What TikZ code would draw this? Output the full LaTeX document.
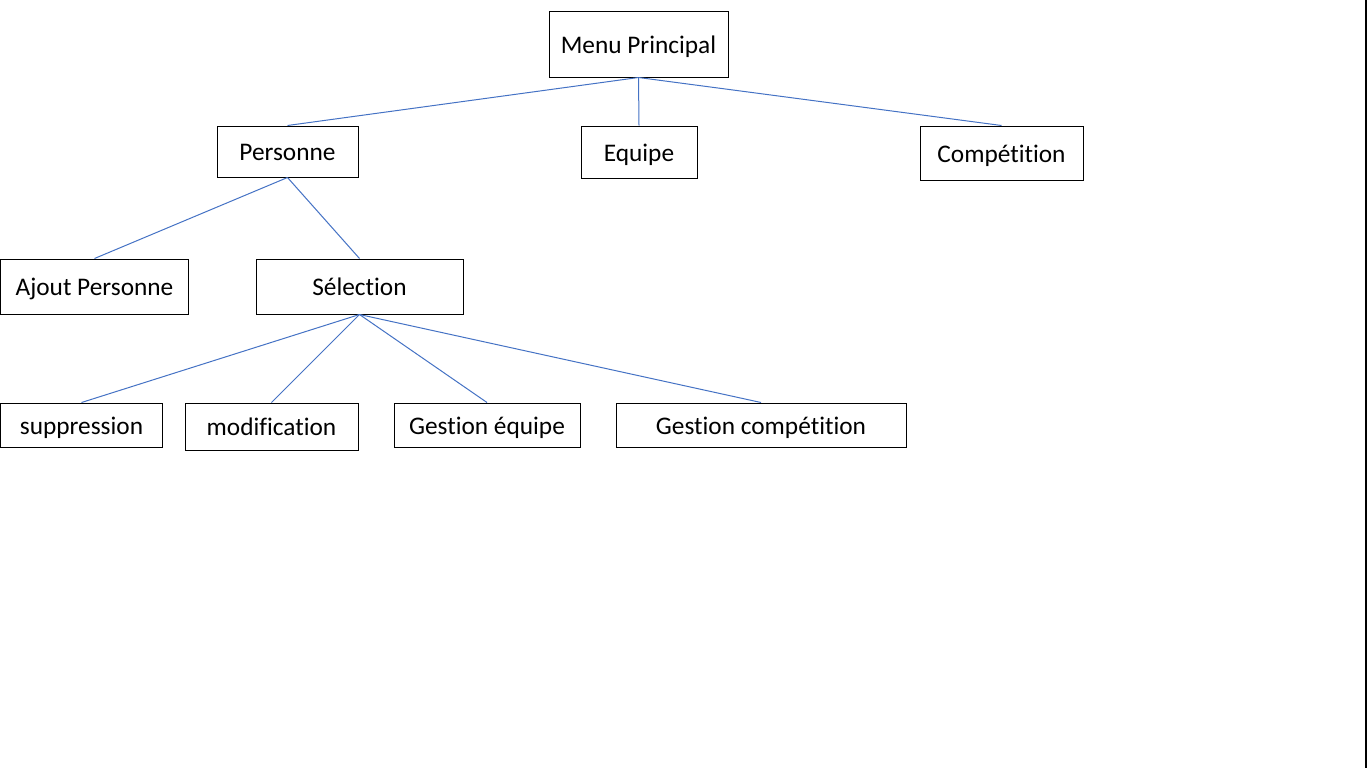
\documentclass[tikz,border=0pt]{standalone}
\usepackage{fontspec}
\setmainfont[Ligatures=NoCommon]{Carlito}
\usepackage{xcolor}
\usepackage{tikz}

\definecolor{linkblue}{HTML}{4472C4}

\begin{document}
\begin{tikzpicture}
		[
			x=0.75pt,y=-0.75pt,
			every node/.style={
					draw=black,line width=0.75pt,inner sep=0pt,
					text height=15pt,text depth=1.2pt,
					font=\fontsize{19}{23}\selectfont},
			menubox/.style 2 args={minimum width=#1,minimum height=#2},
			link/.style={draw=linkblue,line width=0.75pt}]
		\useasboundingbox (0,0) rectangle (1370,768);
		% level 0
		\node[menubox={134.25pt}{49.5pt}] (Menu) at (638.5,44) {Menu Principal};
		% level 1
		\node[menubox={105.75pt}{38.25pt}] (Personne) at (287.5,151.5) {Personne};
		\node[menubox={87pt}{39pt}] (Equipe) at (639,152) {Equipe};
		\node[menubox={122.25pt}{40.5pt}] (Competition) at (1001.5,153) {Compétition};
		% level 2
		\node[menubox={141pt}{41.25pt}] (Ajout) at (94.5,286.5) {Ajout Personne};
		\node[menubox={155.25pt}{41.25pt}] (Selection) at (359.5,286.5) {Sélection};
		% level 3
		\node[menubox={121.5pt}{33pt}] (Suppression) at (81.5,425) {suppression};
		\node[menubox={129.75pt}{35.25pt}] (Modification) at (271.5,426.5) {modification};
		\node[menubox={139.5pt}{33pt}] (GestEquipe) at (487,425) {Gestion équipe};
		\node[menubox={217.5pt}{33pt}] (GestComp) at (761,425) {Gestion compétition};
		% links
		\foreach \child in {Personne,Equipe,Competition}
			\draw[link] (Menu.south) -- (\child.north);
		\foreach \child in {Ajout,Selection}
			\draw[link] (Personne.south) -- (\child.north);
		\foreach \child in {Suppression,Modification,GestEquipe,GestComp}
			\draw[link] (Selection.south) -- (\child.north);
		% right edge of the frame
		\draw[line width=1.5pt] (1365.5,0) -- (1365.5,768);
	\end{tikzpicture}
\end{document}
